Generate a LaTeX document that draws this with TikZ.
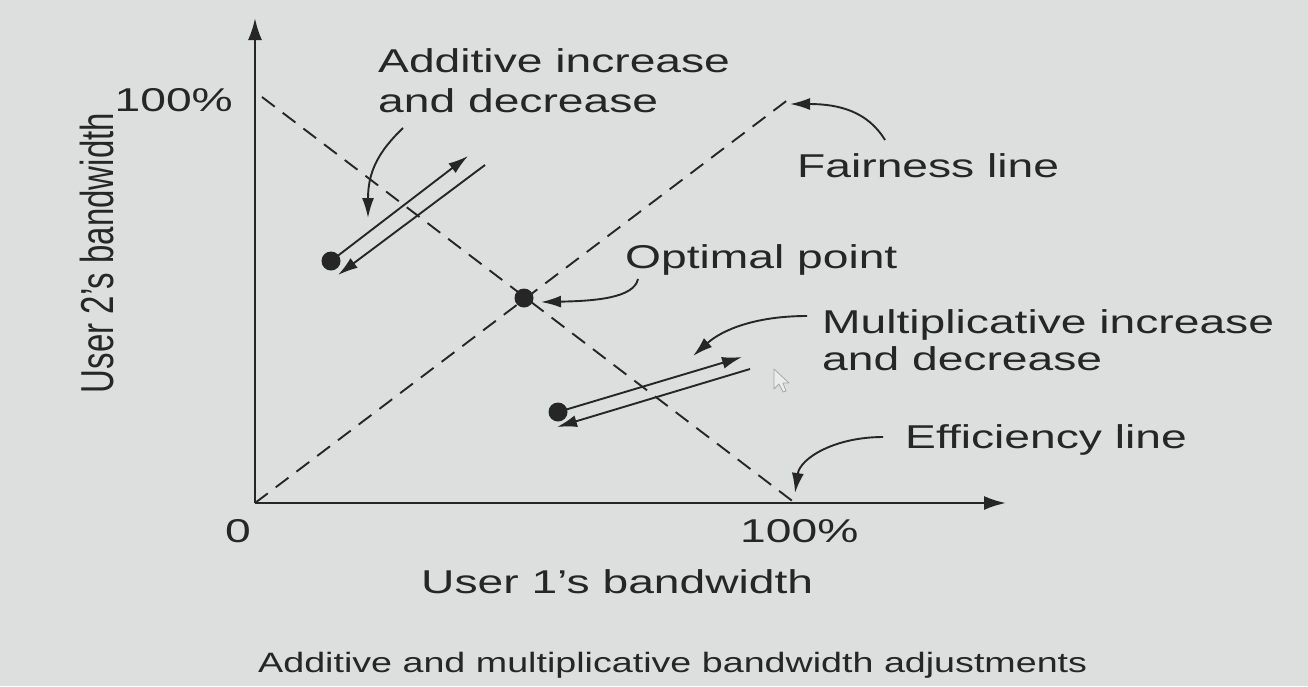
\documentclass[tikz,border=0pt]{standalone}
\usepackage{fontspec}
\setmainfont{Liberation Sans}[FakeStretch=1.4]
\newfontfamily\plainfont{Liberation Sans}
\usepackage{graphicx}
\usetikzlibrary{arrows.meta}
\definecolor{bg}{RGB}{220,223,222}
\definecolor{ink}{RGB}{38,38,38}
\begin{document}
\begin{tikzpicture}[x=1pt,y=-1pt,
  lbl/.style={inner sep=0pt, text=ink, font=\fontsize{33}{40}\selectfont, anchor=base west},
  axis/.style={draw=ink, line width=2.4pt, -{Latex[length=22pt,width=14pt]}},
  guide/.style={draw=ink, line width=1.9pt, dash pattern=on 16pt off 10pt},
  move/.style={draw=ink, line width=1.9pt, -{Latex[length=20pt,width=12pt]}},
  pointer/.style={draw=ink, line width=1.9pt, -{Latex[length=20pt,width=12pt]}},
  dot/.style={circle, fill=ink, minimum size=19pt, inner sep=0pt}]
\fill[bg] (0,0) rectangle (1308,686);
\useasboundingbox (0,0) rectangle (1308,686);

% axes
\coordinate (O) at (255,503);
\coordinate (ytop) at (255,18);
\coordinate (xend) at (1006,503);
\draw[axis] (O) -- (ytop);
\draw[axis] (O) -- (xend);

% guide lines
\coordinate (effA) at (262,97);
\coordinate (effB) at (795,503);
\coordinate (fairB) at (789,99);
\draw[guide] (effA) -- (effB);
\draw[guide] (O) -- (fairB);

% points
\node[dot] (opt) at (524,298) {};
\node[dot] (aidot) at (331,261) {};
\node[dot] (midot) at (558,412) {};

% additive arrows
\coordinate (aiup) at (468,156);
\coordinate (aidnS) at (485,165);
\coordinate (aidnE) at (338,275);
\draw[move] (aidot.center) -- (aiup);
\draw[move] (aidnS) -- (aidnE);

% multiplicative arrows
\coordinate (miup) at (742,357);
\coordinate (midnS) at (750,369);
\coordinate (midnE) at (557,427);
\draw[move] (midot.center) -- (miup);
\draw[move] (midnS) -- (midnE);

% labels
\node[lbl] (ai1) at (378,72) {Additive increase};
\node[lbl] (ai2) at (378,112) {and decrease};
\node[lbl, anchor=base east] (y100) at (233,111) {100\%};
\node[lbl] (fair) at (797,177) {Fairness line};
\node[lbl] (optl) at (625,268) {Optimal point};
\node[lbl] (mi1) at (822,333) {Multiplicative increase};
\node[lbl] (mi2) at (822,370) {and decrease};
\node[lbl] (eff) at (905,448) {Efficiency line};
\node[lbl, anchor=base] (zero) at (238,542) {0};
\node[lbl] (x100) at (740,542) {100\%};
\node[lbl] (xlab) at (421,593) {User 1’s bandwidth};
\node[lbl, anchor=base, rotate=90] (ylab) at (113,253)
  {\scalebox{1}[1.4]{\plainfont User 2’s bandwidth}};
\node[lbl, font=\fontsize{28}{32}\selectfont\plainfont] (cap) at (258,672)
  {\scalebox{1.345}[1]{Additive and multiplicative bandwidth adjustments}};

% pointer arrows
\coordinate (aiS) at (403,128);
\coordinate (aiE) at (368,218);
\draw[pointer] (aiS) .. controls (378,152) and (368,172) .. (aiE);
\coordinate (optS) at (638,279);
\coordinate (optE) at (541,302);
\draw[pointer] (optS) .. controls (634,298) and (595,301) .. (optE);
\coordinate (fairS) at (885,140);
\coordinate (fairE) at (790,104);
\draw[pointer] (fairS) .. controls (868,112) and (840,104) .. (fairE);
\coordinate (miS) at (807,316);
\coordinate (miE) at (693,356);
\draw[pointer] (miS) .. controls (755,316) and (722,330) .. (miE);
\coordinate (effS) at (883,437);
\coordinate (effE) at (795,493);
\draw[pointer] (effS) .. controls (835,437) and (800,458) .. (effE);

% mouse cursor
\draw[gray!70, line width=0.8pt, fill=bg!60!white, line join=round]
  (774,369) -- (774,389) -- (779,384) -- (783,392) -- (786,391) -- (783,383) -- (789,383) -- cycle;
\end{tikzpicture}
\end{document}
